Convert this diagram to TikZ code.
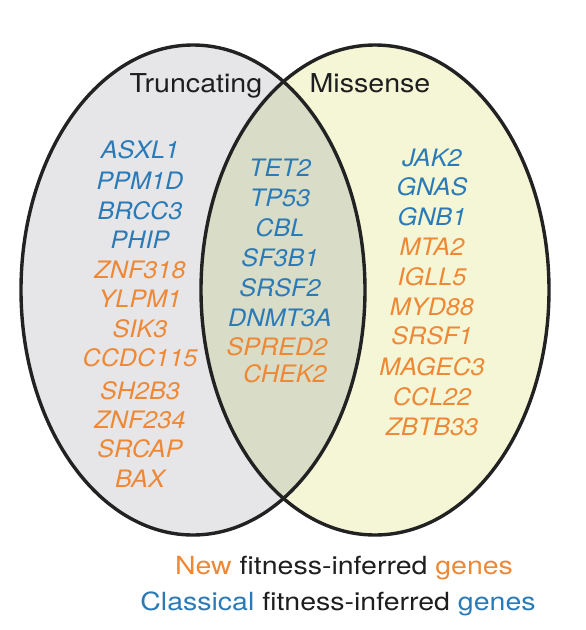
\documentclass[tikz,border=0pt]{standalone}
\usepackage{fontspec}
\setmainfont{TeX Gyre Heros}
\newfontfamily\labfont[FakeStretch=1.1]{TeX Gyre Heros}
\newfontfamily\genefont[FakeStretch=1.05]{TeX Gyre Heros}
\newfontfamily\legfont[FakeStretch=1.14]{TeX Gyre Heros}
\definecolor{gblue}{HTML}{2A7AB7}
\definecolor{gorange}{HTML}{EE8834}
\definecolor{leftfill}{HTML}{E6E6E9}
\definecolor{rightfill}{HTML}{F4F6D6}
\definecolor{lensfill}{HTML}{D9DCC7}
\definecolor{outline}{HTML}{222222}
\definecolor{txt}{HTML}{1E1E1E}
\tikzset{
  setlabel/.style={anchor=base, inner sep=0pt, text=txt, font=\labfont\fontsize{26}{30}\selectfont},
  gene/.style={anchor=base, inner sep=0pt, font=\genefont\itshape\fontsize{24}{28}\selectfont},
  classical/.style={gene, text=gblue},
  newgene/.style={gene, text=gorange},
  legend/.style={anchor=base, inner sep=0pt, text=txt, font=\legfont\fontsize{25}{30}\selectfont},
  ring/.style={draw=outline, line width=3.4pt}
}
\begin{document}
\begin{tikzpicture}[x=1pt,y=-1pt]
\useasboundingbox[fill=white] (0,0) rectangle (586,630);
% fills
\fill[leftfill] (193,290) ellipse [x radius=172pt, y radius=245pt];
\fill[rightfill] (375,290) ellipse [x radius=174pt, y radius=245pt];
\begin{scope}
  \clip (193,290) ellipse [x radius=172pt, y radius=245pt];
  \fill[lensfill] (375,290) ellipse [x radius=174pt, y radius=245pt];
\end{scope}
\draw[ring] (193,290) ellipse [x radius=172pt, y radius=245pt];
\draw[ring] (375,290) ellipse [x radius=174pt, y radius=245pt];
% set labels
\node[setlabel] (trunc) at (196,92) {Truncating};
\node[setlabel] (miss) at (370,92) {Missense};
% left column
\node[classical] (l1) at (140,158) {ASXL1};
\node[classical] (l2) at (140,189) {PPM1D};
\node[classical] (l3) at (140,219) {BRCC3};
\node[classical] (l4) at (140,248) {PHIP};
\node[newgene] (l5) at (140,278) {ZNF318};
\node[newgene] (l6) at (140,307) {YLPM1};
\node[newgene] (l7) at (140,337) {SIK3};
\node[newgene] (l8) at (140,366) {CCDC115};
\node[newgene] (l9) at (140,399) {SH2B3};
\node[newgene] (l10) at (140,428) {ZNF234};
\node[newgene] (l11) at (140,457) {SRCAP};
\node[newgene] (l12) at (140,487) {BAX};
% middle column
\node[classical] (m1) at (280,176) {TET2};
\node[classical] (m2) at (280,206) {TP53};
\node[classical] (m3) at (280,236) {CBL};
\node[classical] (m4) at (280,266) {SF3B1};
\node[classical] (m5) at (280,296) {SRSF2};
\node[classical] (m6) at (280,326) {DNMT3A};
\node[newgene] (m7) at (277,355) {SPRED2};
\node[newgene] (m8) at (285,382) {CHEK2};
% right column
\node[classical] (r1) at (432,166) {JAK2};
\node[classical] (r2) at (432,195) {GNAS};
\node[classical] (r3) at (432,225) {GNB1};
\node[newgene] (r4) at (432,255) {MTA2};
\node[newgene] (r5) at (432,285) {IGLL5};
\node[newgene] (r6) at (432,315) {MYD88};
\node[newgene] (r7) at (432,344) {SRSF1};
\node[newgene] (r8) at (432,375) {MAGEC3};
\node[newgene] (r9) at (432,405) {CCL22};
\node[newgene] (r10) at (432,435) {ZBTB33};
% legend
\node[legend] (leg1) at (344,574) {\textcolor{gorange}{New} fitness-inferred \textcolor{gorange}{genes}};
\node[legend] (leg2) at (338,610) {\textcolor{gblue}{Classical} fitness-inferred \textcolor{gblue}{genes}};
\end{tikzpicture}
\end{document}
